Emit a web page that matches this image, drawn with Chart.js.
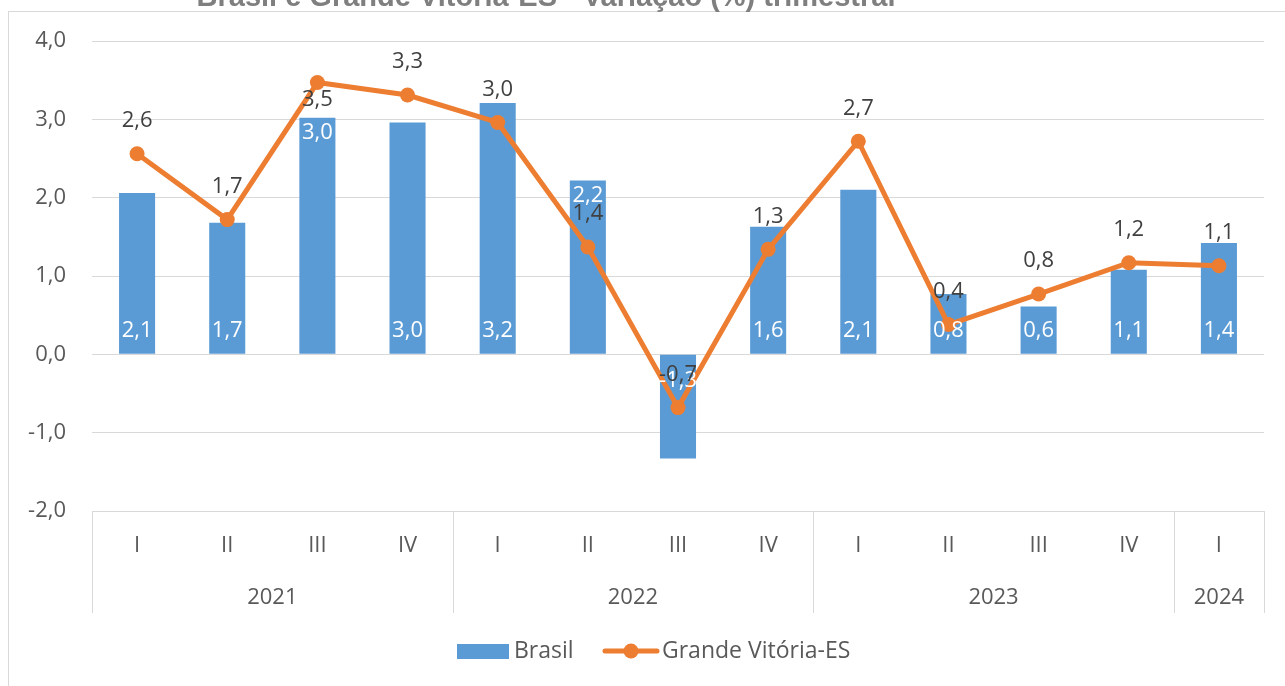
<!DOCTYPE html>
<html>
<head>
<meta charset="utf-8">
<script src="https://cdn.jsdelivr.net/npm/chart.js@4.4.1/dist/chart.umd.min.js"></script>
<style>
  html, body { margin: 0; padding: 0; background: #fff; }
  #wrap { width: 1285px; height: 686px; position: relative; }
</style>
</head>
<body>
<div id="wrap"><canvas id="chart"></canvas></div>
<script>
const quarters = ['I', 'II', 'III', 'IV', 'I', 'II', 'III', 'IV', 'I', 'II', 'III', 'IV', 'I'];
const years = ['2021', '2022', '2023', '2024'];
const quartersPerYear = [4, 4, 4, 1];
const brasil = [2.06, 1.68, 3.02, 2.96, 3.21, 2.22, -1.33, 1.63, 2.10, 0.77, 0.61, 1.08, 1.42];
const grandeVitoria = [2.56, 1.72, 3.47, 3.31, 2.96, 1.37, -0.68, 1.34, 2.72, 0.38, 0.77, 1.17, 1.13];
const titleText = 'Brasil e Grande Vitória-ES - Variação (%) trimestral';

// label placement exceptions (as in the original)
const barLabelAtTop = [2, 5];
const lineLabelBelow = [2];

const FONT = '"Open Sans", "Noto Sans", sans-serif';
const BLUE = '#5B9BD5';
const ORANGE = '#ED7D31';
const GRID = '#d9d9d9';

const fmt = v => v.toFixed(1).replace('.', ',');

const decor = {
  id: 'decor',
  beforeDraw(chart) {
    const ctx = chart.ctx;
    ctx.save();
    ctx.strokeStyle = GRID;
    ctx.lineWidth = 1;
    ctx.strokeRect(8.5, 11.5, 1300, 700);
    ctx.font = 'bold 29px "Liberation Sans", Arial, sans-serif';
    ctx.fillStyle = '#7f7f7f';
    ctx.textAlign = 'center';
    ctx.textBaseline = 'alphabetic';
    ctx.fillText(titleText, 546, 6);
    ctx.restore();
  },
  afterDatasetsDraw(chart) {
    const ctx = chart.ctx;
    const x = chart.scales.x;
    const y = chart.scales.y;
    const area = chart.chartArea;
    ctx.save();
    ctx.font = '22px ' + FONT;
    ctx.textAlign = 'center';
    ctx.textBaseline = 'middle';

    // bar labels
    const barMeta = chart.getDatasetMeta(1);
    brasil.forEach((v, i) => {
      const el = barMeta.data[i];
      let ly;
      if (barLabelAtTop.includes(i)) ly = el.y + 15;
      else ly = v >= 0 ? y.getPixelForValue(0) - 24 : y.getPixelForValue(0) + 26;
      ctx.fillStyle = '#ffffff';
      ctx.fillText(fmt(v), el.x, ly);
    });

    // line labels
    const lineMeta = chart.getDatasetMeta(0);
    grandeVitoria.forEach((v, i) => {
      const el = lineMeta.data[i];
      const ly = lineLabelBelow.includes(i) ? el.y + 17 : el.y - 33;
      ctx.fillStyle = '#404040';
      ctx.fillText(fmt(v), el.x, ly);
    });

    // multi-level category axis
    const bottom = 613;
    ctx.strokeStyle = GRID;
    ctx.lineWidth = 1;
    ctx.fillStyle = '#595959';
    quarters.forEach((q, i) => {
      ctx.fillText(q, x.getPixelForValue(i), 546);
    });
    let start = 0;
    const edge = i => {
      if (i <= 0) return area.left;
      if (i >= quarters.length) return area.right;
      return (x.getPixelForValue(i - 1) + x.getPixelForValue(i)) / 2;
    };
    years.forEach((yr, g) => {
      const end = start + quartersPerYear[g];
      const x0 = edge(start), x1 = edge(end);
      ctx.fillText(yr, (x0 + x1) / 2, 598);
      ctx.beginPath();
      ctx.moveTo(Math.round(x0) + 0.5, area.bottom);
      ctx.lineTo(Math.round(x0) + 0.5, bottom);
      ctx.stroke();
      if (g === years.length - 1) {
        ctx.beginPath();
        ctx.moveTo(Math.round(x1) + 0.5, area.bottom);
        ctx.lineTo(Math.round(x1) + 0.5, bottom);
        ctx.stroke();
      }
      start = end;
    });

    // legend
    const ly = 651;
    ctx.font = '23px ' + FONT;
    ctx.fillStyle = BLUE;
    ctx.fillRect(457, 644, 52, 15);
    ctx.fillStyle = '#595959';
    ctx.textAlign = 'left';
    ctx.fillText(chart.data.datasets[1].label, 514, ly);
    ctx.strokeStyle = ORANGE;
    ctx.lineWidth = 5;
    ctx.lineCap = 'round';
    ctx.beginPath();
    ctx.moveTo(605, ly);
    ctx.lineTo(657, ly);
    ctx.stroke();
    ctx.fillStyle = ORANGE;
    ctx.beginPath();
    ctx.arc(631, ly, 7.5, 0, Math.PI * 2);
    ctx.fill();
    ctx.fillStyle = '#595959';
    ctx.fillText(chart.data.datasets[0].label, 662, ly);
    ctx.restore();
  }
};

new Chart(document.getElementById('chart'), {
  type: 'bar',
  data: {
    labels: quarters,
    datasets: [
      {
        type: 'line',
        label: 'Grande Vitória-ES',
        data: grandeVitoria,
        borderColor: ORANGE,
        backgroundColor: ORANGE,
        borderWidth: 5,
        pointRadius: 7.5,
        pointBorderWidth: 0,
        tension: 0,
        order: 0
      },
      {
        type: 'bar',
        label: 'Brasil',
        data: brasil,
        backgroundColor: BLUE,
        barPercentage: 0.4,
        categoryPercentage: 1,
        order: 1
      }
    ]
  },
  options: {
    responsive: true,
    maintainAspectRatio: false,
    animation: false,
    layout: { padding: { left: 0, top: 41, right: 21, bottom: 175 } },
    plugins: {
      legend: { display: false },
      tooltip: { enabled: false },
      title: { display: false }
    },
    scales: {
      x: { display: false },
      y: {
        min: -2,
        max: 4,
        afterFit: scale => { scale.width = 92; },
        ticks: {
          stepSize: 1,
          padding: 26,
          color: '#595959',
          font: { family: FONT, size: 22 },
          callback: v => fmt(v)
        },
        grid: { color: GRID, lineWidth: 1, drawTicks: false },
        border: { display: false }
      }
    }
  },
  plugins: [decor]
});
</script>
</body>
</html>
